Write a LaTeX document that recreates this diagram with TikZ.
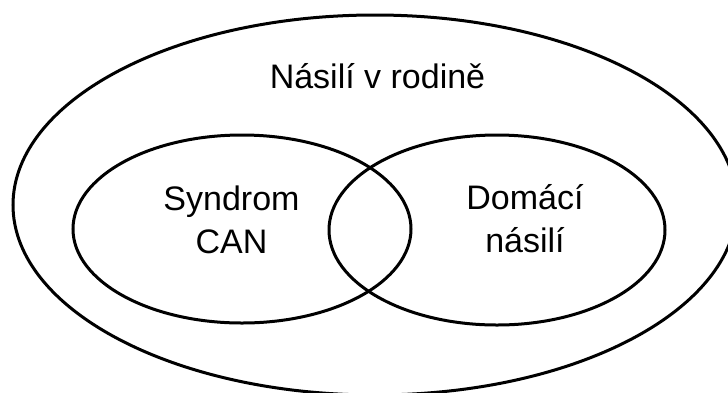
\documentclass[tikz,border=0pt]{standalone}
\usepackage{fontspec}
\setmainfont{Liberation Sans}
\usetikzlibrary{shapes.geometric}
\begin{document}
\begin{tikzpicture}[x=1pt,y=-1pt,
  set/.style={draw=black, line width=3pt, ellipse, inner sep=0pt, outer sep=0pt},
  lbl/.style={anchor=base, inner sep=0pt, font=\fontsize{34}{43}\selectfont}]
\useasboundingbox (0,0) rectangle (728,392);
\begin{scope}
\clip (0,0) rectangle (728,392);
\node[set, minimum width=724pt, minimum height=380pt] (outer) at (375,205) {};
\end{scope}
\node[set, minimum width=338pt, minimum height=188pt] (can) at (242,229) {};
\node[set, minimum width=336pt, minimum height=190pt] (dom) at (497,230) {};
\node[lbl] (t1) at (377.5,88) {Násilí v rodině};
\node[lbl] (c1) at (231.5,210) {Syndrom};
\node[lbl] (c2) at (231.5,253) {CAN};
\node[lbl] (d1) at (525,209) {Domácí};
\node[lbl] (d2) at (525,252) {násilí};
\end{tikzpicture}
\end{document}
